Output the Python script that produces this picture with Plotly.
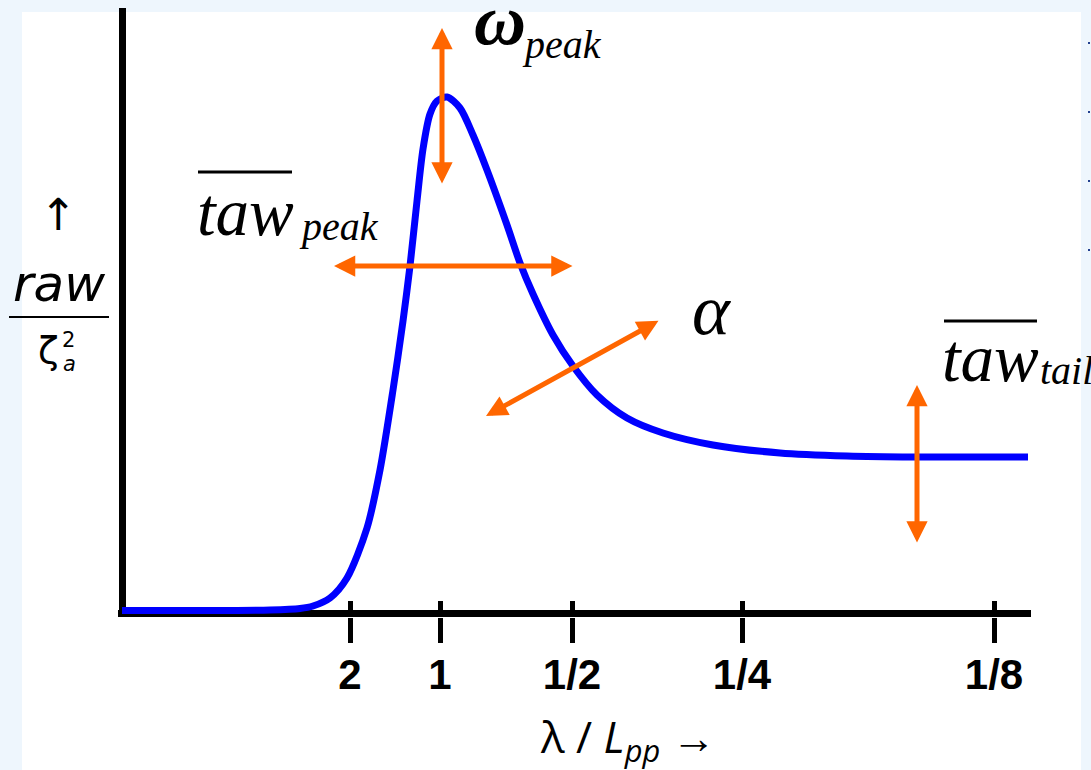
import plotly.graph_objects as go

# ---------------- data ----------------
# horizontal position (axis units) and normalised response raw/zeta_a^2
x_pos = [0.00, 0.78, 1.48, 1.78, 1.91, 2.08, 2.25, 2.45, 2.58, 2.71, 2.81, 2.88,
         2.95, 3.01, 3.08, 3.15, 3.25, 3.38, 3.51, 3.65, 3.85, 3.98, 4.11, 4.31,
         4.51, 4.75, 5.05, 5.41, 5.91, 6.58, 7.25, 7.91, 8.58, 9.06]
raw_resp = [0.025, 0.025, 0.03, 0.045, 0.07, 0.15, 0.35, 0.85, 1.43, 2.23, 2.92, 3.47,
            4.12, 4.64, 4.99, 5.12, 5.16, 5.05, 4.78, 4.43, 3.88, 3.50, 3.19, 2.78,
            2.47, 2.18, 1.95, 1.80, 1.68, 1.60, 1.57, 1.56, 1.56, 1.56]

tick_pos = [2.28, 3.18, 4.50, 6.20, 8.72]
tick_labels = ["2", "1", "1/2", "1/4", "1/8"]

# ---------------- layout geometry ----------------
W, H = 1091, 770
ML, MR, MT, MB = 118, 60, 8, 153
PW, PH = W - ML - MR, H - MT - MB
XR = [-0.04, 9.09]
YR = [-0.04, 6.05]

ORANGE = "#ff6600"
BLUE = "#0000ff"


def D(px, py):
    """pixel -> data coordinates"""
    return (XR[0] + (px - ML) / PW * (XR[1] - XR[0]),
            YR[1] - (py - MT) / PH * (YR[1] - YR[0]))


def P(px, py):
    """pixel -> paper coordinates"""
    return ((px - ML) / PW, 1 - (py - MT) / PH)


fig = go.Figure()
fig.add_trace(go.Scatter(x=x_pos, y=raw_resp, mode="lines",
                         line=dict(color=BLUE, width=7, shape="spline", smoothing=0.8),
                         hoverinfo="skip", showlegend=False))
# invisible trace on the overlay axis (carries the inner half of the ticks)
fig.add_trace(go.Scatter(x=[tick_pos[0]], y=[0], xaxis="x2", mode="markers",
                         marker=dict(opacity=0), hoverinfo="skip", showlegend=False))

shapes = []
# white slide area
x0, y0 = P(22, 12)
x1, y1 = P(1081, 775)
shapes.append(dict(type="rect", xref="paper", yref="paper", x0=x0, y0=y1, x1=x1, y1=y0,
                   fillcolor="white", line=dict(width=0), layer="below"))
# tiny bullets at the right edge
for by in [43, 112, 181, 250]:
    a, b = P(1088, by - 1)
    c, d = P(1090, by + 1)
    shapes.append(dict(type="rect", xref="paper", yref="paper", x0=a, y0=d, x1=c, y1=b,
                       fillcolor="#23408f", line=dict(width=0), layer="above"))
# overlines and fraction bar
for (ax_, ay_, bx_, by_, w) in [(198, 172, 292, 172, 3), (944, 321, 1037, 321, 3),
                                (9, 317, 109, 317, 2)]:
    a, b = P(ax_, ay_)
    c, d = P(bx_, by_)
    shapes.append(dict(type="line", xref="paper", yref="paper", x0=a, y0=b, x1=c, y1=d,
                       line=dict(color="black", width=w), layer="above"))

ann = []
# double-headed orange arrows (pixel endpoints)
arrows = [((442, 28), (442, 185)),
          ((334, 266), (574, 266)),
          ((486, 416), (660, 320)),
          ((917, 385), (917, 544))]
for (p1, p2) in arrows:
    hx, hy = D(*p1)
    tx, ty = D(*p2)
    ann.append(dict(x=hx, y=hy, ax=tx, ay=ty, xref="x", yref="y", axref="x", ayref="y",
                    text="", showarrow=True, arrowhead=2, startarrowhead=2,
                    arrowside="end+start", arrowsize=0.85, startarrowsize=0.85,
                    arrowwidth=5, arrowcolor=ORANGE, standoff=0, startstandoff=0))

SERIF = "Liberation Serif, Times New Roman, serif"
SANS = "DejaVu Sans, Verdana, sans-serif"
HUM = "Open Sans, Noto Sans, sans-serif"


def txt(px, py, s, size, family, xanchor="center", weight="normal", style="normal"):
    x, y = P(px, py)
    ann.append(dict(x=x, y=y, xref="paper", yref="paper", text=s, showarrow=False,
                    xanchor=xanchor, yanchor="middle",
                    font=dict(size=size, family=family, color="black",
                              weight=weight, style=style)))


txt(500, 20, "ω", 72, SERIF, weight="bold", style="italic")
txt(520, 44, "peak", 40, SERIF, xanchor="left", style="italic")
txt(195, 212, "taw", 67, SERIF, xanchor="left", style="italic")
txt(297, 226, "peak", 40, SERIF, xanchor="left", style="italic")
txt(711, 310, "α", 72, SERIF, style="italic")
txt(940, 358, "taw", 67, SERIF, xanchor="left", style="italic")
txt(1038, 370, "tail", 40, SERIF, xanchor="left", style="italic")
txt(58, 214, "↑", 44, SANS)
txt(59, 284, "raw", 50, SANS, style="italic")
txt(48, 350, "ζ", 38, SANS)
txt(68, 340, "2", 21, SANS)
txt(69, 364, "a", 21, SANS, style="italic")
# horizontal axis title
txt(628, 738, "λ / <i>L</i><sub><i>pp</i></sub> →", 44, HUM)

fig.update_layout(
    width=W, height=H,
    margin=dict(l=ML, r=MR, t=MT, b=MB),
    paper_bgcolor="#eef6fd",
    plot_bgcolor="rgba(0,0,0,0)",
    shapes=shapes,
    annotations=ann,
    showlegend=False,
    xaxis=dict(range=XR, showgrid=False, showline=False,
               zeroline=True, zerolinecolor="black", zerolinewidth=7,
               tickmode="array", tickvals=tick_pos, ticktext=tick_labels,
               ticks="outside", ticklen=25, tickwidth=5, tickcolor="black",
               ticklabelstandoff=-4,
               tickfont=dict(family="Liberation Sans, Arial, sans-serif", size=42,
                             color="black", weight="bold"),
               fixedrange=True),
    xaxis2=dict(overlaying="x", matches="x", anchor="y", side="bottom",
                showgrid=False, showline=False, zeroline=False,
                tickmode="array", tickvals=tick_pos, ticktext=[""] * len(tick_pos),
                ticks="inside", ticklen=16, tickwidth=5, tickcolor="black",
                showticklabels=False),
    yaxis=dict(range=YR, showgrid=False, showline=False, showticklabels=False,
               ticks="", zeroline=True, zerolinecolor="black", zerolinewidth=7,
               fixedrange=True),
)

fig.write_html("out.html", config={"displayModeBar": False},
               post_script="document.body.style.margin='0px';")
